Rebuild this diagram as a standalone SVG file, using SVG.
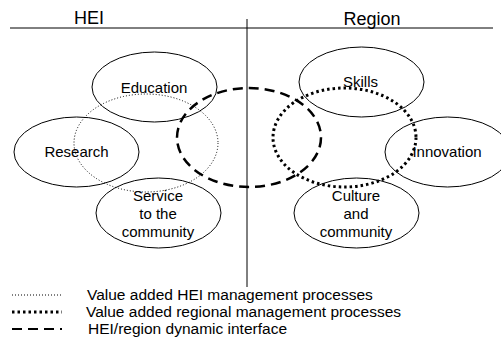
<svg xmlns="http://www.w3.org/2000/svg" width="501" height="344" viewBox="0 0 501 344">
<style>
text{font-family:"Liberation Sans",Arial,sans-serif;fill:#000}
.lbl{font-size:15px;text-anchor:middle}
.hd{font-size:18px;text-anchor:middle}
.lg{font-size:15.5px}
.node{fill:none;stroke:#000;stroke-width:1}
.thin{fill:none;stroke:#000;stroke-width:1;stroke-dasharray:1 2}
.thick{fill:none;stroke:#000;stroke-width:3;stroke-dasharray:2.5 3}
.dash{fill:none;stroke:#000;stroke-width:2.5;stroke-dasharray:10 6}
</style>
<rect width="501" height="344" fill="#fff"/>
<g id="axes">
<line x1="10" y1="28" x2="493" y2="28" stroke="#000" stroke-width="1"/>
<line x1="247" y1="19" x2="247" y2="287" stroke="#000" stroke-width="1"/>
<text class="hd" x="89" y="24">HEI</text>
<text class="hd" x="372" y="25">Region</text>
</g>
<g id="education"><ellipse class="node" cx="154.5" cy="87" rx="62.5" ry="35"/><text class="lbl" x="154" y="93">Education</text></g>
<g id="research"><ellipse class="node" cx="76.5" cy="152" rx="62.5" ry="35"/><text class="lbl" x="76.5" y="157">Research</text></g>
<g id="service"><ellipse class="node" cx="158.5" cy="213" rx="62.5" ry="35"/><text class="lbl" x="158" y="201">Service</text><text class="lbl" x="158" y="219">to the</text><text class="lbl" x="158" y="237">community</text></g>
<g id="skills"><ellipse class="node" cx="361.5" cy="82" rx="62.5" ry="35"/><text class="lbl" x="360.5" y="87">Skills</text></g>
<g id="innovation"><ellipse class="node" cx="447.5" cy="152" rx="62.5" ry="35"/><text class="lbl" x="447" y="157">Innovation</text></g>
<g id="culture"><ellipse class="node" cx="356.5" cy="213" rx="62.5" ry="35"/><text class="lbl" x="356" y="201">Culture</text><text class="lbl" x="356" y="219">and</text><text class="lbl" x="356" y="237">community</text></g>
<g id="connectors">
<ellipse class="thin" cx="146" cy="143" rx="72" ry="49"/>
<ellipse class="dash" cx="249" cy="137.5" rx="72" ry="49.5"/>
<ellipse class="thick" cx="344.5" cy="137.5" rx="71.5" ry="49.5"/>
</g>
<g id="legend">
<line class="thin" x1="12" y1="295" x2="62" y2="295"/>
<line class="thick" x1="12" y1="312" x2="62" y2="312"/>
<line x1="12" y1="329" x2="62" y2="329" stroke="#000" stroke-width="2" stroke-dasharray="10 6"/>
<text class="lg" x="87" y="300">Value added HEI management processes</text>
<text class="lg" x="86" y="317">Value added regional management processes</text>
<text class="lg" x="88" y="334">HEI/region dynamic interface</text>
</g>
</svg>
